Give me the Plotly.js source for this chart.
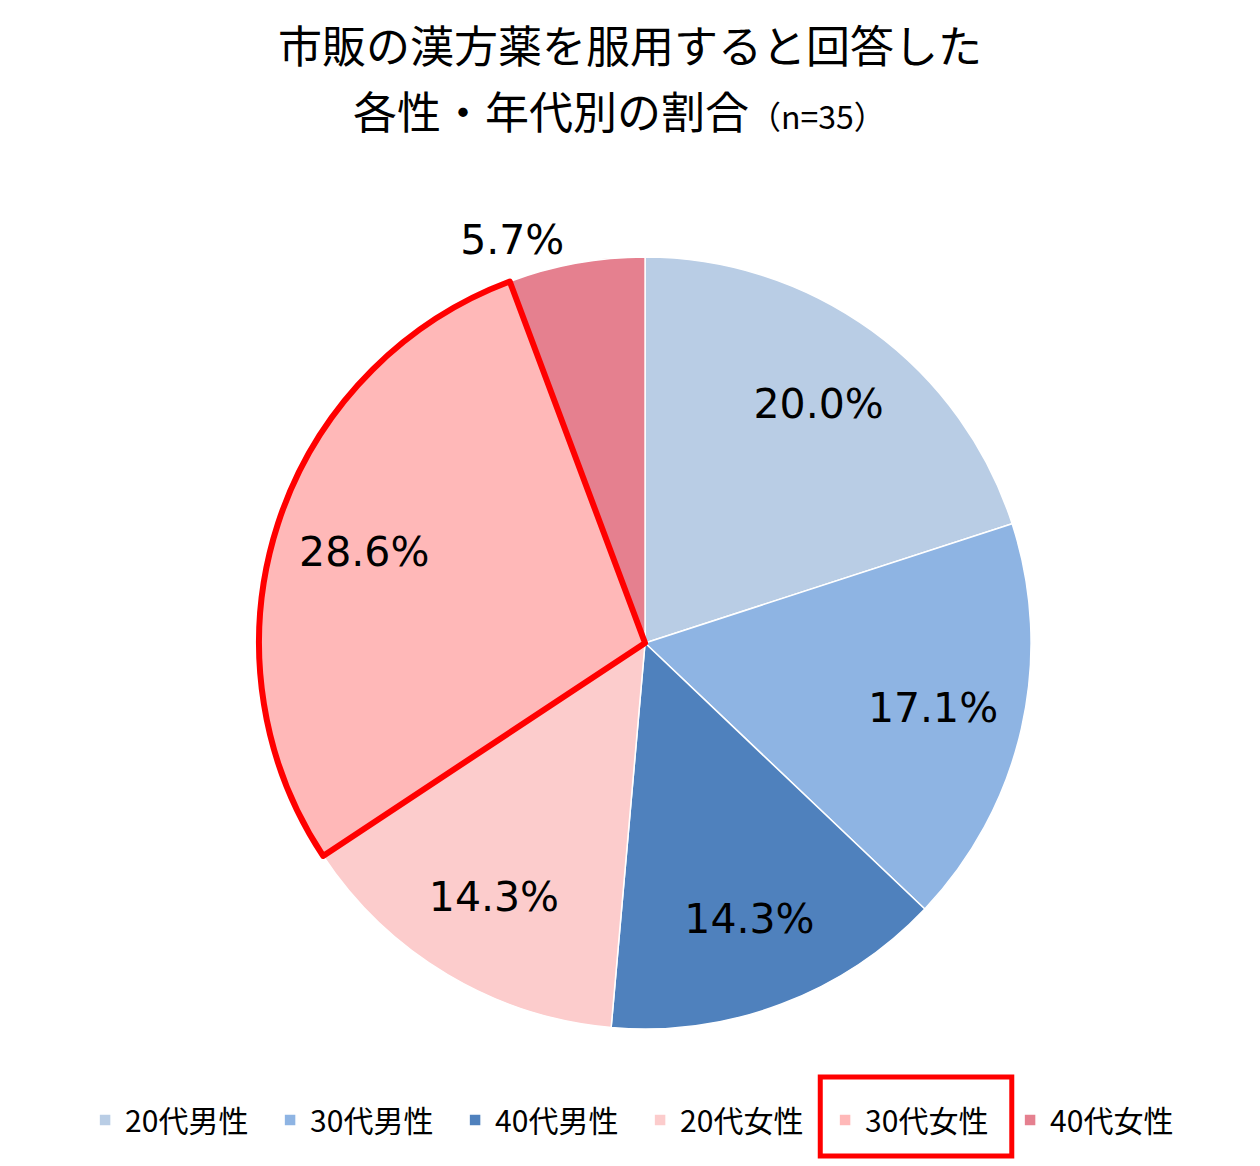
<!DOCTYPE html>
<html>
<head>
<meta charset="utf-8">
<script src="https://cdn.plot.ly/plotly-3.0.1.min.js"></script>
<style>
  body { margin: 0; background: #fff; }
  #grafico { width: 1260px; height: 1166px; }
</style>
</head>
<body>
<div id="grafico"></div>
<script>
// categorías y valores (%)
const categorias = ["20代男性", "30代男性", "40代男性", "20代女性", "30代女性", "40代女性"];
const porcentajes = [20.0, 17.1, 14.3, 14.3, 28.6, 5.7];
const colores = ["#B9CDE5", "#8EB4E3", "#4F81BD", "#FCCCCC", "#FFB8B8", "#E5808F"];
const destacado = "30代女性";

const fuente = "'Noto Sans CJK JP', 'Noto Sans', sans-serif";
const fuenteNumeros = "'DejaVu Sans', sans-serif";
const dominio = { x: [0.2056, 0.8183], y: [0.1175, 0.7796] };
const transparente = categorias.map(() => "rgba(0,0,0,0)");

// posiciones del texto: el sector chico va afuera
let posiciones = porcentajes.map(v => v < 10 ? "outside" : "inside");

// sectores con color y leyenda
var torta = {
    type: "pie",
    labels: categorias,
    values: porcentajes,
    textinfo: "none",
    sort: false,
    direction: "clockwise",
    rotation: 0,
    domain: dominio,
    marker: {
        colors: colores,
        line: { color: "#fff", width: 1.5 }
    },
    hoverinfo: "label+percent"
};

// etiquetas: torta con agujero para llevar el texto hacia afuera (como Excel)
var etiquetas = {
    type: "pie",
    labels: categorias,
    values: porcentajes,
    hole: 0.53,
    text: porcentajes.map(v => v.toFixed(1) + "%"),
    textinfo: "text",
    textposition: posiciones,
    insidetextorientation: "horizontal",
    textfont: { family: fuenteNumeros, size: 41, color: "#000" },
    sort: false,
    direction: "clockwise",
    rotation: 0,
    domain: dominio,
    showlegend: false,
    hoverinfo: "skip",
    marker: { colors: transparente, line: { width: 0 } }
};

// borde rojo encima del sector destacado
var borde = {
    type: "pie",
    labels: categorias,
    values: porcentajes,
    textinfo: "none",
    sort: false,
    direction: "clockwise",
    rotation: 0,
    domain: dominio,
    showlegend: false,
    hoverinfo: "skip",
    marker: {
        colors: transparente,
        line: {
            color: categorias.map(c => c === destacado ? "#FF0000" : "rgba(0,0,0,0)"),
            width: categorias.map(c => c === destacado ? 6 : 0)
        }
    }
};

var layout = {
    width: 1260,
    height: 1166,
    margin: { l: 0, r: 0, t: 0, b: 0 },
    paper_bgcolor: "#fff",
    font: { family: fuente, color: "#000" },
    title: {
        text: "市販の漢方薬を服用すると回答した",
        font: { family: fuente, size: 44, color: "#000" },
        x: 0.5,
        xanchor: "center",
        y: 0.9588,
        yanchor: "middle"
    },
    // segunda línea del título
    annotations: [{
        text: "各性・年代別の割合<span style='font-size:32px'>（n=35）</span>",
        xref: "paper", yref: "paper",
        x: 0.492, y: 0.9057,
        xanchor: "center", yanchor: "middle",
        showarrow: false,
        font: { family: fuente, size: 44, color: "#000" }
    }],
    showlegend: true,
    legend: {
        orientation: "h",
        x: 0.508,
        xanchor: "center",
        y: 0.0395,
        yanchor: "middle",
        bgcolor: "rgba(0,0,0,0)",
        font: { family: fuente, size: 30, color: "#000" },
        entrywidth: 140,
        itemwidth: 30,
        traceorder: "normal"
    },
    shapes: [{
        type: "rect",
        xref: "paper", yref: "paper",
        x0: 0.651, x1: 0.803, y0: 0.0086, y1: 0.0763,
        line: { color: "#FF0000", width: 5 }
    }]
};

Plotly.newPlot("grafico", [torta, etiquetas, borde], layout, { displayModeBar: false });
</script>
</body>
</html>
